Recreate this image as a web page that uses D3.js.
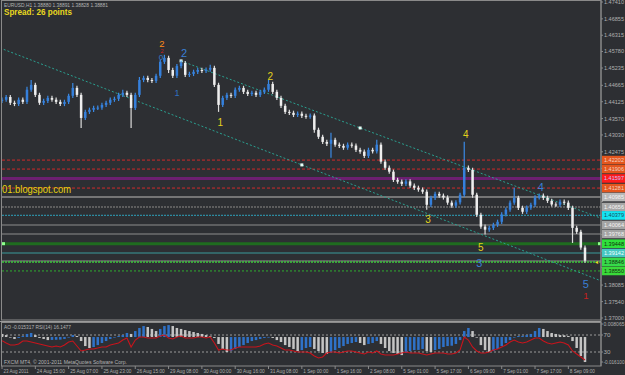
<!DOCTYPE html>
<html><head><meta charset="utf-8">
<script src="https://cdn.jsdelivr.net/npm/d3@7"></script>
<style>
html,body{margin:0;padding:0;background:#2d2f33;overflow:hidden}
svg{display:block}
text{font-family:"Liberation Sans",Arial,sans-serif}
</style></head><body>
<svg id="c" width="625" height="375"></svg>
<script>
// ---------- DATA ----------
const firstOpen = 1.4415;
const closes = [
1.4419,1.4428,1.4409,1.4405,1.4419,1.4412,1.4452,1.4468,1.4435,1.4409,
1.4415,1.4425,1.4419,1.4412,1.4405,1.4412,1.4432,1.4458,1.4435,1.4359,
1.4379,1.4386,1.4392,1.4393,1.4402,1.4409,1.4419,1.4422,1.4435,1.4442,
1.4435,1.4392,1.4435,1.4484,1.4491,1.4484,1.4481,1.4498,1.4544,1.4557,
1.4517,1.4498,1.4530,1.4540,1.4501,1.4504,1.4511,1.4517,1.4514,1.4518,
1.4524,1.4468,1.4402,1.4425,1.4435,1.4432,1.4452,1.4458,1.4445,1.4438,
1.4442,1.4435,1.4445,1.4452,1.4471,1.4445,1.4425,1.4399,1.4379,1.4376,
1.4369,1.4373,1.4366,1.4363,1.4367,1.4320,1.4297,1.4280,1.4274,1.4287,
1.4271,1.4267,1.4261,1.4271,1.4268,1.4254,1.4248,1.4234,1.4254,1.4249,
1.4271,1.4215,1.4195,1.4182,1.4155,1.4149,1.4142,1.4150,1.4136,1.4129,
1.4123,1.4116,1.4073,1.4096,1.4109,1.4103,1.4097,1.4080,1.4070,1.4081,
1.4106,1.4195,1.4188,1.4106,1.4040,1.4001,1.3991,1.3997,1.4007,1.4017,
1.4041,1.4057,1.4080,1.4096,1.4063,1.4050,1.4064,1.4073,1.4097,1.4103,
1.4096,1.4086,1.4074,1.4073,1.4083,1.4080,1.4063,1.3997,1.3984,1.3932,
1.3889];
// wick extensions beyond the body, in pips (read from spikes); other bars use defaultWick
const hiExt = {6:10,7:16,17:16,29:10,33:10,39:10,43:8,50:10,64:13,79:23,90:16,111:86,123:33};
const loExt = {19:33,31:66,40:10,52:23,75:10,79:46,102:16,113:10,116:16,137:50};
const defaultWick = 7;

const aoValues = [
0.0019,0.0012,0.0000,-0.0012,-0.0006,0.0006,0.0019,0.0025,0.0012,-0.0006,
-0.0012,-0.0019,-0.0018,-0.0017,-0.0016,-0.0012,0.0000,0.0012,0.0006,-0.0025,
-0.0056,-0.0068,-0.0062,-0.0050,-0.0037,-0.0025,-0.0012,-0.0002,0.0006,0.0012,
0.0025,0.0019,0.0037,0.0056,0.0068,0.0062,0.0050,0.0037,0.0050,0.0068,
0.0074,0.0068,0.0056,0.0050,0.0043,0.0037,0.0031,0.0025,0.0019,0.0012,
0.0006,-0.0006,-0.0043,-0.0074,-0.0093,-0.0087,-0.0074,-0.0062,-0.0050,-0.0037,
-0.0025,-0.0019,-0.0012,-0.0006,-0.0002,-0.0006,-0.0019,-0.0031,-0.0050,-0.0062,
-0.0074,-0.0087,-0.0081,-0.0068,-0.0062,-0.0074,-0.0087,-0.0099,-0.0105,-0.0093,
-0.0081,-0.0068,-0.0056,-0.0043,-0.0037,-0.0031,-0.0037,-0.0050,-0.0043,-0.0037,
-0.0025,-0.0043,-0.0068,-0.0087,-0.0099,-0.0105,-0.0112,-0.0099,-0.0087,-0.0081,
-0.0080,-0.0074,-0.0087,-0.0093,-0.0081,-0.0074,-0.0062,-0.0056,-0.0054,-0.0043,
-0.0019,0.0037,0.0056,0.0037,0.0000,-0.0050,-0.0081,-0.0093,-0.0087,-0.0074,
-0.0056,-0.0037,-0.0019,0.0000,0.0006,0.0007,0.0012,0.0019,0.0037,0.0056,
0.0050,0.0037,0.0025,0.0019,0.0012,0.0011,0.0006,-0.0025,-0.0068,-0.0118,
-0.0155];

const rsiValues = [
56.6,51.2,46.5,46.5,48.8,55.9,55.9,53.5,51.2,48.8,
46.5,44.1,41.8,44.1,41.8,46.5,53.5,55.9,44.1,32.4,
34.7,37.1,37.1,39.4,41.8,41.8,46.5,48.8,51.2,58.2,
62.9,41.8,58.2,65.3,65.3,62.9,62.9,62.9,67.6,70.0,
62.9,60.6,65.3,67.6,62.9,62.9,62.9,65.3,65.3,62.9,
65.3,51.2,34.7,37.1,34.7,34.7,39.4,41.8,41.8,41.8,
41.8,41.8,44.1,48.8,51.2,46.5,44.1,39.4,34.7,34.7,
32.4,30.0,30.0,30.0,27.6,20.6,15.9,18.2,27.6,30.0,
30.0,27.6,30.0,32.4,32.4,30.0,27.6,25.3,30.0,27.6,
32.4,25.3,22.9,22.9,22.9,25.3,27.6,30.0,27.6,27.6,
27.6,25.3,22.9,25.3,27.6,27.6,27.6,25.3,25.3,27.6,
34.7,65.3,58.2,41.8,32.4,27.6,27.6,30.0,34.7,37.1,
41.8,46.5,53.5,58.2,53.5,51.2,53.5,58.2,62.9,62.9,
55.9,51.2,48.8,51.2,53.5,51.2,46.5,32.4,25.3,18.2,
11.2];

const timeLabels = ["23 Aug 2011","24 Aug 15:00","25 Aug 07:00","25 Aug 23:00","26 Aug 15:00",
"29 Aug 08:00","30 Aug 00:00","30 Aug 16:00","31 Aug 08:00","1 Sep 00:00","1 Sep 16:00",
"2 Sep 08:00","5 Sep 01:00","5 Sep 17:00","6 Sep 09:00","7 Sep 01:00","7 Sep 17:00","8 Sep 09:00"];
const pointsPerTimeLabel = 8;

const priceTicks = [1.47410,1.46855,1.46315,1.45780,1.45235,1.44665,1.44125,1.43570,1.43030,
1.42475,1.41930,1.41385,1.40840,1.40295,1.39750,1.39205,1.38660,1.38085,1.37540,1.37000];

const levelPrices = [1.42202,1.41906,1.41597,1.41281,1.40985,1.40656,1.40379,1.40064,
1.39768,1.39448,1.39142,1.38879,1.38846,1.38550];

// trend channel lines: [index, price] anchors
const lowerLine = [[0,1.45870],[140,1.38429]];
const upperLine = [[43,1.45469],[140,1.40485]];
const lineMarkers = [{line:"lower", i:72},{line:"upper", i:86},{line:"upper", i:43}];

const waveLabels = [
 {i:38.4,p:1.46045,t:"2",k:"orange"},
 {i:38.4,p:1.45792,t:"2",k:"red"},
 {i:38.2,p:1.45568,t:"0",k:"blueM"},
 {i:43.7,p:1.45732,t:"2",k:"blue"},
 {i:42.0,p:1.44416,t:"1",k:"blueS"},
 {i:52.4,p:1.43429,t:"1",k:"yellow"},
 {i:64.4,p:1.44943,t:"2",k:"yellow"},
 {i:102.3,p:1.40238,t:"3",k:"yellow"},
 {i:111.4,p:1.43034,t:"4",k:"yellow"},
 {i:129.4,p:1.41323,t:"4",k:"blue"},
 {i:115.0,p:1.39317,t:"5",k:"yellow"},
 {i:114.6,p:1.38823,t:"3",k:"blue"},
 {i:140.2,p:1.38132,t:"5",k:"blue"},
 {i:140.2,p:1.37738,t:"1",k:"redL"}
];

const aoTopLabel = "0.008065", aoBottomLabel = "-0.016100";
const rsiLevels = [70, 30];

// ---------- STYLES ----------
const levelStyles = [
 {c:"#cf2a2a",w:1,d:"3,2",tag:"#e4561e",tc:"#f3d0c0"},
 {c:"#cf2a2a",w:1,d:"3,2",tag:"#e4561e",tc:"#f3d0c0"},
 {c:"#6c1f70",w:3,d:null,tag:"#ff1c1c",tc:"#c8c0ff"},
 {c:"#cf2a2a",w:1,d:"3,2",tag:"#e4561e",tc:"#f3d0c0"},
 {c:"#8e8e8e",w:1.5,d:null,tag:"#b8b8b8",tc:"#f4f4f4"},
 {c:"#6e6e6e",w:1.5,d:"2,1",tag:"#a6a6a6",tc:"#f4f4f4"},
 {c:"#2d8aa0",w:1.2,d:"2,1",tag:"#14e4f0",tc:"#1a4a60"},
 {c:"#8e8e8e",w:1.2,d:null,tag:"#a4a4a4",tc:"#f4f4f4"},
 {c:"#8e8e8e",w:1.2,d:null,tag:"#a4a4a4",tc:"#f4f4f4"},
 {c:"#1f6c1f",w:3,d:null,tag:"#2fe03c",tc:"#103010"},
 {c:"#3a9c9c",w:1.2,d:null,tag:"#46c8c2",tc:"#f0ffff"},
 {c:"#8a8a8a",w:1,d:null,tag:null},
 {c:"#3cc83c",w:1.5,d:"2,1",tag:"#36da4a",tc:"#103010"},
 {c:"#2fae2f",w:1,d:"2,2",tag:"#3ada3a",tc:"#103010"}
];
const waveColors = {orange:["#ff8a1a",9.5],red:["#d02020",5.5],redL:["#c82020",9.5],blue:["#3a7fd6",11],blueM:["#3a7fd6",8],
  blueS:["#2f6fc0",9],yellow:["#e2d21c",10]};
const AX = 5.6; // axis font size

// ---------- LAYOUT ----------
const svg = d3.select("#c");
const L = 2, R = 601, mainTop = 1, mainBot = 320, indTop = 322, indBot = 366;
const x = d3.scaleLinear().domain([0, closes.length - 1]).range([2, 585]);
const y = d3.scaleLinear().domain([1.37000, 1.47410]).range([318, 2]);
const yAO = d3.scaleLinear().domain([-0.0161, 0.008065]).range([363, 324]);
const yRSI = d3.scaleLinear().domain([0, 100]).range([364.75, 322.25]);

svg.append("rect").attr("width",625).attr("height",375).attr("fill","#2d2f33");
svg.append("defs").html(`<clipPath id="mc"><rect x="${L}" y="${mainTop}" width="${R-L}" height="${mainBot-mainTop}"/></clipPath>
<clipPath id="ic"><rect x="${L}" y="${indTop}" width="${R-L}" height="${indBot-indTop}"/></clipPath>`);

const main = svg.append("g").attr("clip-path","url(#mc)");

// horizontal levels
levelPrices.forEach((p,k)=>{
  const s = levelStyles[k];
  main.append("line").attr("x1",L).attr("x2",R).attr("y1",y(p)).attr("y2",y(p))
    .attr("stroke",s.c).attr("stroke-width",s.w).attr("stroke-dasharray",s.d);
});
[L+1.5, R-1.5].forEach(px=>{
  main.append("rect").attr("x",px-1.5).attr("y",y(levelPrices[9])-1.5).attr("width",3).attr("height",3).attr("fill","#8dff8d");
});

// channel lines
function lineAt(ln, i){ const [a,b]=ln; return a[1]+(b[1]-a[1])*(i-a[0])/(b[0]-a[0]); }
const iRight = x.invert(R);
const iLeft = x.invert(0);
[[lowerLine, iLeft],[upperLine, upperLine[0][0]]].forEach(([ln,i0])=>{
  main.append("line").attr("x1",x(i0)).attr("y1",y(lineAt(ln,i0)))
    .attr("x2",x(iRight)).attr("y2",y(lineAt(ln,iRight)))
    .attr("stroke","#2aa090").attr("stroke-width",1).attr("stroke-dasharray","2,2");
});
lineMarkers.forEach(m=>{
  const ln = m.line==="lower"?lowerLine:upperLine;
  main.append("rect").attr("x",x(m.i)-1.5).attr("y",y(lineAt(ln,m.i))-1.5).attr("width",3).attr("height",3).attr("fill","#e8fff8");
});

// bars
const bars = closes.map((c,i)=>{
  const o = i===0?firstOpen:closes[i-1];
  const hi = Math.max(o,c) + (hiExt[i] ?? defaultWick)*0.0001;
  const lo = Math.min(o,c) - (loExt[i] ?? defaultWick)*0.0001;
  return {i,o,c,hi,lo,up:c>=o};
});
const cg = main.append("g");
cg.selectAll("line.w").data(bars).join("line")
  .attr("x1",d=>x(d.i)).attr("x2",d=>x(d.i)).attr("y1",d=>y(d.hi)).attr("y2",d=>y(d.lo))
  .attr("stroke",d=>d.up?"#3a8ae6":"#dcdcdc").attr("stroke-width",1.2);
cg.selectAll("rect.b").data(bars).join("rect")
  .attr("x",d=>x(d.i)-1.25).attr("width",2.5)
  .attr("y",d=>y(Math.max(d.o,d.c)))
  .attr("height",d=>Math.max(1,y(Math.min(d.o,d.c))-y(Math.max(d.o,d.c))))
  .attr("fill",d=>d.up?"#3580dc":"#eeeeee");

// wave labels
waveLabels.forEach(w=>{
  const [col,fs] = waveColors[w.k];
  main.append("text").attr("x",x(w.i)).attr("y",y(w.p)).attr("text-anchor","middle")
    .attr("dominant-baseline","central").attr("fill",col).attr("font-size",fs).text(w.t);
});

// texts
main.append("text").attr("x",4).attr("y",7).attr("fill","#b4b4b4").attr("font-size",5.4)
  .attr("textLength",104).attr("lengthAdjust","spacingAndGlyphs")
  .text("EURUSD,H1  1.38880 1.38891 1.38828 1.38881");
main.append("text").attr("x",4).attr("y",14.5).attr("fill","#e8d820").attr("font-size",8.5).attr("font-weight","bold")
  .attr("textLength",68).attr("lengthAdjust","spacingAndGlyphs")
  .text("Spread: 26 points");
main.append("text").attr("x",2).attr("y",192.5).attr("fill","#e6d40e").attr("font-size",10)
  .attr("textLength",69).attr("lengthAdjust","spacingAndGlyphs")
  .text("01.blogspot.com");
main.append("text").attr("x",594).attr("y",y(levelPrices[12])+2).attr("fill","#e8d820").attr("font-size",5).text("◄");

// frames
svg.append("rect").attr("x",1.5).attr("y",0.5).attr("width",R-1.5).attr("height",mainBot-0.5)
  .attr("fill","none").attr("stroke","#8a8a8a").attr("stroke-width",1);
svg.append("line").attr("x1",0).attr("x2",R).attr("y1",321.5).attr("y2",321.5).attr("stroke","#9a9a9a").attr("stroke-width",1);
svg.append("rect").attr("x",1.5).attr("y",322.5).attr("width",R-1.5).attr("height",indBot-322.5)
  .attr("fill","none").attr("stroke","#8a8a8a").attr("stroke-width",1);

// price axis
const ax = svg.append("g");
const tagYs = levelPrices.filter((p,k)=>levelStyles[k].tag).map(p=>y(p));
priceTicks.forEach(p=>{
  const py = y(p);
  ax.append("line").attr("x1",R).attr("x2",R+2).attr("y1",py).attr("y2",py).attr("stroke","#8a8a8a");
  if (tagYs.some(t=>Math.abs(t-py)<8)) return;
  ax.append("text").attr("x",R+3).attr("y",py).attr("dominant-baseline","central")
    .attr("fill","#b0b0b0").attr("font-size",AX).attr("textLength",20).attr("lengthAdjust","spacingAndGlyphs").text(p.toFixed(5));
});
levelPrices.forEach((p,k)=>{
  const s = levelStyles[k]; if(!s.tag) return;
  ax.append("rect").attr("x",R+1).attr("y",y(p)-4.3).attr("width",625-R).attr("height",8.6).attr("fill",s.tag);
  ax.append("text").attr("x",R+3).attr("y",y(p)).attr("dominant-baseline","central")
    .attr("fill",s.tc).attr("font-size",AX).attr("textLength",20).attr("lengthAdjust","spacingAndGlyphs").text(p.toFixed(5));
});

// indicator
const ind = svg.append("g").attr("clip-path","url(#ic)");
rsiLevels.forEach(v=>{
  ind.append("line").attr("x1",L).attr("x2",R).attr("y1",yRSI(v)).attr("y2",yRSI(v))
    .attr("stroke","#9a9a9a").attr("stroke-dasharray","2,2");
});
ind.selectAll("rect.ao").data(aoValues).join("rect")
  .attr("x",(d,i)=>x(i)-1.25).attr("width",2.5)
  .attr("y",d=>Math.min(yAO(d),yAO(0)))
  .attr("height",d=>Math.max(0.6,Math.abs(yAO(d)-yAO(0))))
  .attr("fill",(d,i)=> i>0 && d>aoValues[i-1] ? "#2f72c8" : "#c4c4c4");
ind.append("path").datum(rsiValues)
  .attr("d",d3.line().x((d,i)=>x(i)).y(d=>yRSI(d)))
  .attr("fill","none").attr("stroke","#c8141c").attr("stroke-width",1.1);
ind.append("text").attr("x",4).attr("y",329).attr("fill","#b4b4b4").attr("font-size",5.4)
  .attr("textLength",67).attr("lengthAdjust","spacingAndGlyphs")
  .text("AO -0.015317  RSI(14) 16.1477");
ind.append("text").attr("x",4).attr("y",364).attr("fill","#b4b4b4").attr("font-size",5.4)
  .attr("textLength",123).attr("lengthAdjust","spacingAndGlyphs")
  .text("FXCM MT4, © 2001-2011 MetaQuotes Software Corp.");

svg.append("line").attr("x1",R).attr("x2",R).attr("y1",0).attr("y2",indBot).attr("stroke","#8a8a8a");
[[yAO(0.008065),aoTopLabel,21],[yRSI(70),"70",7],[yRSI(30),"30",7],[yAO(-0.0161)-1,aoBottomLabel,21]].forEach(([py,t,tl])=>{
  ax.append("line").attr("x1",R).attr("x2",R+2).attr("y1",py).attr("y2",py).attr("stroke","#8a8a8a");
  ax.append("text").attr("x",R+2.5).attr("y",py).attr("dominant-baseline","central")
    .attr("fill","#b0b0b0").attr("font-size",5).attr("textLength",tl).attr("lengthAdjust","spacingAndGlyphs").text(t);
});

// time axis
timeLabels.forEach((t,k)=>{
  const px = x(k*pointsPerTimeLabel);
  svg.append("line").attr("x1",px).attr("x2",px).attr("y1",indBot).attr("y2",indBot+3).attr("stroke","#8a8a8a");
  svg.append("text").attr("x",px+1.5).attr("y",373).attr("fill","#b0b0b0").attr("font-size",5.4)
    .attr("textLength",t.length>11?28:25).attr("lengthAdjust","spacingAndGlyphs").text(t);
});
</script></body></html>
